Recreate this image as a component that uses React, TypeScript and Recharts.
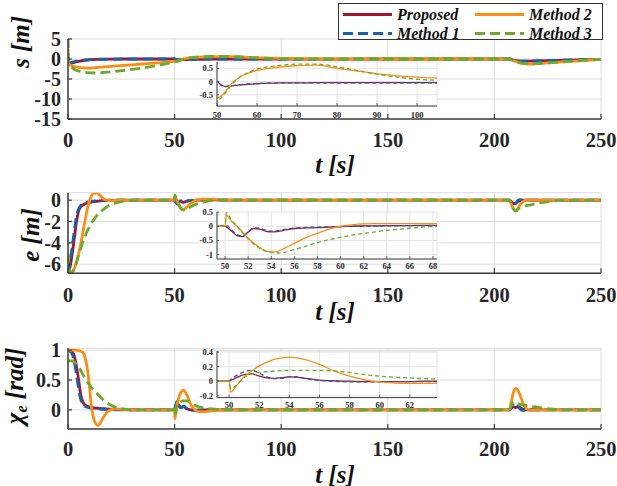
import { CartesianGrid, Line, LineChart, XAxis, YAxis } from "recharts";

const RED = "#A2142F";
const BLUE = "#1B5FA8";
const ORANGE = "#FF8C12";
const GREEN = "#6DAA2C";
const AXIS = "#3c3c3c";
const GRID = "#dddddd";
const SERIF = "Liberation Serif, DejaVu Serif, Times, serif";

const SERIES = [
  { key: "p", name: "Proposed", color: RED, dashed: false },
  { key: "m1", name: "Method 1", color: BLUE, dashed: true },
  { key: "m2", name: "Method 2", color: ORANGE, dashed: false },
  { key: "m3", name: "Method 3", color: GREEN, dashed: true },
];

const mainTicksX = [0, 50, 100, 150, 200, 250];

// ---- s [m] ----
const tS = [0, 0.3, 2, 5, 9, 13, 20, 30, 40, 45, 50, 51, 52, 53, 54, 55, 56, 58, 60, 63, 66, 70, 75, 80, 85, 90, 95, 100, 105, 110, 120, 150, 207, 209, 211, 213, 215, 217, 220, 230, 240, 250];
const sProposed = [-1.3, -1.3, -1.0, -0.6, -0.25, -0.1, -0.02, 0, 0, 0, 0, -0.12, -0.18, -0.17, -0.15, -0.13, -0.12, -0.1, -0.08, -0.06, -0.05, -0.05, -0.04, -0.04, -0.04, -0.04, -0.04, -0.04, -0.04, -0.03, -0.02, 0, 0, -0.3, -0.5, -0.55, -0.55, -0.52, -0.48, -0.35, -0.22, -0.1];
const sMethod1 = [-1.0, -1.0, -0.8, -0.45, -0.2, -0.07, -0.01, 0, 0, 0, 0.01, -0.14, -0.19, -0.17, -0.15, -0.13, -0.11, -0.09, -0.07, -0.06, -0.05, -0.05, -0.05, -0.05, -0.05, -0.05, -0.05, -0.05, -0.05, -0.04, -0.02, 0, 0, -0.35, -0.52, -0.55, -0.52, -0.5, -0.45, -0.33, -0.2, -0.08];
const sMethod2 = [2.5, -1.2, -1.7, -2.1, -2.3, -2.15, -1.85, -1.45, -1.05, -0.85, -0.62, -0.55, -0.4, -0.2, -0.02, 0.1, 0.2, 0.33, 0.42, 0.5, 0.56, 0.6, 0.62, 0.5, 0.4, 0.3, 0.22, 0.17, 0.13, 0.09, 0.04, 0, 0, -0.4, -0.85, -1.1, -1.2, -1.25, -1.15, -0.8, -0.45, -0.1];
const sMethod3 = [5.2, -1.0, -2.2, -3.0, -3.4, -3.5, -3.2, -2.6, -1.8, -1.3, -0.72, -0.62, -0.45, -0.25, -0.06, 0.08, 0.2, 0.36, 0.47, 0.56, 0.62, 0.66, 0.66, 0.56, 0.42, 0.28, 0.17, 0.09, 0.05, 0.02, 0, 0, 0, -0.35, -0.8, -1.05, -1.18, -1.22, -1.12, -0.78, -0.42, -0.08];

// ---- e [m] ----
const tE = [0, 1, 2, 3, 4, 5, 6, 7, 8, 9, 10, 11, 12, 13.5, 15, 16.5, 18, 20, 22, 25, 28, 32, 40, 50, 50.1, 50.5, 51, 51.5, 52, 52.5, 53, 53.5, 54, 54.5, 55, 56, 57, 58, 59, 60, 61, 62, 63, 64, 66, 68, 70, 80, 206, 207, 208, 209, 210, 211, 212, 213, 214, 215, 217, 220, 225, 230, 250];
const eProposed = [-6.8, -6.2, -5.0, -3.5, -2.0, -1.0, -0.6, -0.45, -0.35, -0.28, -0.22, -0.18, -0.14, -0.1, -0.07, -0.05, -0.03, -0.02, -0.01, 0, 0, 0, 0, 0, -0.02, -0.15, -0.32, -0.36, -0.2, -0.08, -0.1, -0.17, -0.2, -0.19, -0.15, -0.08, -0.06, -0.05, -0.03, -0.01, 0, 0.01, 0.015, 0.02, 0.025, 0.03, 0.02, 0, 0, 0, -0.15, -0.35, -0.3, -0.12, -0.05, -0.01, 0, 0, 0, 0, 0, 0, 0];
const eMethod1 = [-6.8, -5.8, -4.3, -2.8, -1.5, -0.8, -0.5, -0.35, -0.25, -0.18, -0.13, -0.1, -0.08, -0.05, -0.03, -0.02, -0.01, 0, 0, 0, 0, 0, 0, 0, 0.03, -0.1, -0.28, -0.35, -0.2, -0.06, -0.07, -0.14, -0.17, -0.16, -0.12, -0.06, -0.04, -0.03, -0.02, -0.01, 0, 0.005, 0.01, 0.015, 0.02, 0.025, 0.02, 0, 0, 0, -0.2, -0.4, -0.25, -0.05, 0.05, 0.02, 0, 0, 0, 0, 0, 0, 0];
const eMethod2 = [-6.85, -6.85, -6.7, -6.4, -5.8, -5.0, -4.1, -3.0, -1.9, -0.9, -0.1, 0.4, 0.64, 0.68, 0.45, 0.15, 0, -0.05, -0.03, 0, 0, 0, 0, 0, 0.4, 0.2, 0.02, -0.2, -0.42, -0.6, -0.75, -0.86, -0.9, -0.88, -0.8, -0.6, -0.4, -0.25, -0.1, 0, 0.05, 0.08, 0.09, 0.09, 0.09, 0.09, 0.07, 0, 0, 0, -0.4, -0.85, -1.0, -0.8, -0.45, -0.2, -0.05, 0, 0, 0, 0, 0, 0];
const eMethod3 = [-5.0, -6.8, -6.75, -6.4, -5.8, -5.1, -4.5, -3.9, -3.4, -2.9, -2.5, -2.15, -1.85, -1.45, -1.15, -0.9, -0.65, -0.42, -0.27, -0.13, -0.05, -0.01, 0, 0, 0.48, 0.25, 0.02, -0.22, -0.44, -0.63, -0.78, -0.87, -0.92, -0.94, -0.92, -0.82, -0.7, -0.57, -0.47, -0.39, -0.31, -0.25, -0.2, -0.15, -0.07, -0.01, 0, 0, 0, 0, -0.45, -0.85, -1.0, -0.85, -0.7, -0.6, -0.55, -0.5, -0.43, -0.3, -0.15, -0.05, 0];

// ---- chi_e [rad] ----
const tX = [0, 1, 2, 3, 4, 5, 6, 7, 8, 9, 10, 11, 12, 13, 14, 15, 16.5, 18, 20, 22, 25, 30, 40, 50, 50.1, 50.5, 51, 51.5, 52, 52.5, 53, 53.5, 54, 54.5, 55, 56, 57, 58, 59, 60, 61, 62, 63, 64, 66, 70, 80, 206, 207, 208, 209, 210, 211, 212, 213, 214, 215, 217, 220, 223, 226, 230, 250];
const xProposed = [1.0, 0.99, 0.97, 0.9, 0.72, 0.5, 0.25, 0.13, 0.08, 0.06, 0.05, 0.04, 0.035, 0.03, 0.027, 0.024, 0.02, 0.016, 0.012, 0.008, 0.004, 0, 0, 0, 0.01, 0.05, 0.09, 0.1, 0.07, 0.045, 0.04, 0.05, 0.06, 0.055, 0.04, 0.015, 0.005, 0, -0.005, -0.005, -0.005, -0.005, 0, 0, 0, 0, 0, 0, 0, 0.03, 0.05, 0.04, 0.05, 0.04, 0.02, 0.01, 0, 0, 0, 0, 0, 0, 0];
const xMethod1 = [1.0, 0.98, 0.93, 0.8, 0.58, 0.35, 0.17, 0.09, 0.06, 0.045, 0.035, 0.03, 0.025, 0.02, 0.017, 0.014, 0.01, 0.007, 0.004, 0.002, 0, 0, 0, 0, 0.02, 0.08, 0.13, 0.15, 0.11, 0.06, 0.035, 0.04, 0.06, 0.06, 0.04, 0.01, 0, -0.01, -0.01, -0.008, -0.005, -0.005, -0.005, -0.005, 0, 0, 0, 0, 0, 0.06, 0.08, 0.03, 0.06, 0.02, -0.01, -0.01, 0, 0, 0, 0, 0, 0, 0];
const xMethod2 = [1.0, 1.0, 1.0, 1.0, 1.0, 0.99, 0.98, 0.96, 0.88, 0.7, 0.42, 0.05, -0.14, -0.23, -0.26, -0.23, -0.13, -0.05, 0, 0.015, 0.01, 0, 0, 0, -0.15, -0.06, 0.06, 0.14, 0.21, 0.26, 0.3, 0.32, 0.33, 0.32, 0.3, 0.23, 0.14, 0.07, 0.02, -0.01, -0.025, -0.03, -0.03, -0.03, -0.025, -0.01, 0, 0, 0, 0.15, 0.3, 0.36, 0.33, 0.25, 0.15, 0.07, 0.02, -0.01, 0, 0, 0, 0, 0];
const xMethod3 = [0.82, 0.82, 0.82, 0.8, 0.77, 0.72, 0.66, 0.59, 0.53, 0.47, 0.42, 0.37, 0.33, 0.29, 0.26, 0.22, 0.17, 0.13, 0.08, 0.05, 0.02, 0, 0, 0, -0.1, -0.05, 0.05, 0.1, 0.12, 0.13, 0.14, 0.145, 0.15, 0.15, 0.15, 0.15, 0.14, 0.12, 0.09, 0.07, 0.055, 0.045, 0.035, 0.03, 0.02, 0.01, 0, 0, 0, 0.08, 0.14, 0.12, 0.1, 0.09, 0.085, 0.08, 0.075, 0.065, 0.045, 0.03, 0.015, 0.005, 0];

const rows = (t: number[], p: number[], m1: number[], m2: number[], m3: number[]) =>
  t.map((x, i) => ({ t: x, p: p[i], m1: m1[i], m2: m2[i], m3: m3[i] }));

const sData = rows(tS, sProposed, sMethod1, sMethod2, sMethod3);
const eData = rows(tE, eProposed, eMethod1, eMethod2, eMethod3);
const xData = rows(tX, xProposed, xMethod1, xMethod2, xMethod3);

const xTick = (len: number, off: number, fs: number, w: number) => (props: any) => {
  const { x, y, payload } = props;
  return (
    <g>
      <line x1={x} x2={x} y1={y} y2={y - len} stroke={AXIS} strokeWidth={w} />
      <text x={x} y={y + off} textAnchor="middle" dominantBaseline="central" style={{ fontFamily: SERIF }} fontWeight="bold" fontSize={fs} fill="#262626">
        {payload.value}
      </text>
    </g>
  );
};

const yTick = (len: number, off: number, fs: number, w: number) => (props: any) => {
  const { x, y, payload } = props;
  return (
    <g>
      <line x1={x} x2={x + len} y1={y} y2={y} stroke={AXIS} strokeWidth={w} />
      <text x={x - off} y={y} textAnchor="end" dominantBaseline="central" style={{ fontFamily: SERIF }} fontWeight="bold" fontSize={fs} fill="#262626">
        {payload.value}
      </text>
    </g>
  );
};

function Panel({ data, top, height, plotTop, plotBottom, yDomain, yTicks, tickOff }: any) {
  const YW = 60;
  const XH = 30;
  return (
    <div style={{ position: "absolute", left: 0, top, width: 617, height }}>
      <LineChart
        width={617}
        height={height}
        data={data}
        margin={{ top: plotTop - top, right: 16, left: 68 - YW, bottom: top + height - plotBottom - XH }}
      >
        <CartesianGrid stroke={GRID} strokeWidth={1} />
        <XAxis
          type="number"
          dataKey="t"
          domain={[0, 250]}
          ticks={mainTicksX}
          allowDataOverflow
          interval={0}
          height={XH}
          tickSize={0}
          tickMargin={0}
          tickLine={false}
          axisLine={{ stroke: AXIS, strokeWidth: 1.5 }}
          tick={xTick(5, tickOff, 20.5, 1.2)}
        />
        <YAxis
          type="number"
          domain={yDomain}
          ticks={yTicks}
          allowDataOverflow
          interval={0}
          width={YW}
          tickSize={0}
          tickMargin={0}
          tickLine={false}
          axisLine={{ stroke: AXIS, strokeWidth: 1.5 }}
          tick={yTick(4, 7, 20, 1.2)}
        />
        {SERIES.map((s) => (
          <Line
            key={s.key}
            dataKey={s.key}
            type="monotone"
            stroke={s.color}
            strokeWidth={2.8}
            strokeDasharray={s.dashed ? "10 5" : undefined}
            dot={false}
            isAnimationActive={false}
          />
        ))}
      </LineChart>
    </div>
  );
}

function Inset({ data, left, top, right, bottom, xDomain, xTicks, yDomain, yTicks, labelOff }: any) {
  const YW = 30;
  const XH = 14;
  const padL = 37;
  const padT = 6;
  const padR = 5;
  const padB = 20;
  const w = right - left + padL + padR;
  const h = bottom - top + padT + padB;
  return (
    <div style={{ position: "absolute", left: left - padL, top: top - padT, width: w, height: h }}>
      <LineChart
        width={w}
        height={h}
        data={data}
        margin={{ top: padT, right: padR, left: padL - YW, bottom: padB - XH }}
      >
        <CartesianGrid stroke={GRID} strokeWidth={0.8} fill="#ffffff" fillOpacity={1} />
        <XAxis
          type="number"
          dataKey="t"
          domain={xDomain}
          ticks={xTicks}
          allowDataOverflow
          interval={0}
          height={XH}
          tickSize={0}
          tickMargin={0}
          tickLine={false}
          axisLine={{ stroke: AXIS, strokeWidth: 1 }}
          tick={xTick(3, labelOff, 8.5, 0.8)}
        />
        <YAxis
          type="number"
          domain={yDomain}
          ticks={yTicks}
          allowDataOverflow
          interval={0}
          width={YW}
          tickSize={0}
          tickMargin={0}
          tickLine={false}
          axisLine={{ stroke: AXIS, strokeWidth: 1 }}
          tick={yTick(2, 4, 8.5, 0.8)}
        />
        {SERIES.map((s) => (
          <Line
            key={s.key}
            dataKey={s.key}
            type="monotone"
            stroke={s.color}
            strokeWidth={1.3}
            strokeDasharray={s.dashed ? "4 3" : undefined}
            dot={false}
            isAnimationActive={false}
          />
        ))}
      </LineChart>
    </div>
  );
}

const textStyle = {
  position: "absolute" as const,
  fontFamily: SERIF,
  fontWeight: "bold",
  fontStyle: "italic",
  fontSize: 25,
  color: "#111",
  whiteSpace: "nowrap" as const,
  lineHeight: 1,
};

function YLabel({ x, y, children }: any) {
  return (
    <div style={{ ...textStyle, left: x, top: y, transform: "translate(-50%, -50%) rotate(-90deg)" }}>{children}</div>
  );
}

function XLabel({ y }: any) {
  return <div style={{ ...textStyle, left: 335, top: y, transform: "translate(-50%, -50%)" }}>t [s]</div>;
}

function LegendBox() {
  const rowsY = [14.5, 33.5];
  const items = [
    { s: SERIES[0], x: 343, y: rowsY[0] },
    { s: SERIES[2], x: 475, y: rowsY[0] },
    { s: SERIES[1], x: 343, y: rowsY[1] },
    { s: SERIES[3], x: 475, y: rowsY[1] },
  ];
  return (
    <svg width={617} height={45} style={{ position: "absolute", left: 0, top: 0 }}>
      <rect x={338.5} y={3.5} width={264} height={36} fill="#fff" stroke="#333" strokeWidth={1} />
      {items.map((it) => (
        <g key={it.s.key}>
          <line
            x1={it.x}
            x2={it.x + 49}
            y1={it.y}
            y2={it.y}
            stroke={it.s.color}
            strokeWidth={3}
            strokeDasharray={it.s.dashed ? "10 5" : undefined}
          />
          <text
            x={it.x + 54}
            y={it.y}
            dominantBaseline="central"
            style={{ fontFamily: SERIF }}
            fontWeight="bold"
            fontStyle="italic"
            fontSize={16}
            fill="#111"
          >
            {it.s.name}
          </text>
        </g>
      ))}
    </svg>
  );
}

export default function App() {
  return (
    <div style={{ position: "absolute", left: 0, top: 0, width: 617, height: 486, background: "#fff", overflow: "hidden" }}>
      <Panel data={sData} top={0} height={180} plotTop={39} plotBottom={119} yDomain={[-15, 5]} yTicks={[-15, -10, -5, 0, 5]} tickOff={21} />
      <Panel data={eData} top={180} height={150} plotTop={192.7} plotBottom={273.3} yDomain={[-6.85, 0.7]} yTicks={[-6, -4, -2, 0]} tickOff={21.5} />
      <Panel data={xData} top={330} height={156} plotTop={348.3} plotBottom={429} yDomain={[-0.32, 1.03]} yTicks={[0, 0.5, 1]} tickOff={19.5} />

      <Inset data={sData} left={217} top={62} right={437} bottom={106} xDomain={[50, 105]} xTicks={[50, 60, 70, 80, 90, 100]} yDomain={[-0.92, 0.74]} yTicks={[-0.5, 0, 0.5]} labelOff={9} />
      <Inset data={eData} left={217} top={212} right={437} bottom={259} xDomain={[49.3, 68.35]} xTicks={[50, 52, 54, 56, 58, 60, 62, 64, 66, 68]} yDomain={[-1.15, 0.5]} yTicks={[-1, -0.5, 0, 0.5]} labelOff={6.5} />
      <Inset data={xData} left={217} top={350.7} right={437} bottom={397.3} xDomain={[49.2, 63.8]} xTicks={[50, 52, 54, 56, 58, 60, 62]} yDomain={[-0.225, 0.415]} yTicks={[-0.2, 0, 0.2, 0.4]} labelOff={7.5} />

      <YLabel x={20} y={42}>s [m]</YLabel>
      <YLabel x={30} y={235}>e [m]</YLabel>
      <YLabel x={16} y={386}>
        χ<sub style={{ fontSize: "0.65em", verticalAlign: "-0.25em" }}>e</sub> [rad]
      </YLabel>
      <XLabel y={164} />
      <XLabel y={311} />
      <XLabel y={474} />

      <LegendBox />
    </div>
  );
}
